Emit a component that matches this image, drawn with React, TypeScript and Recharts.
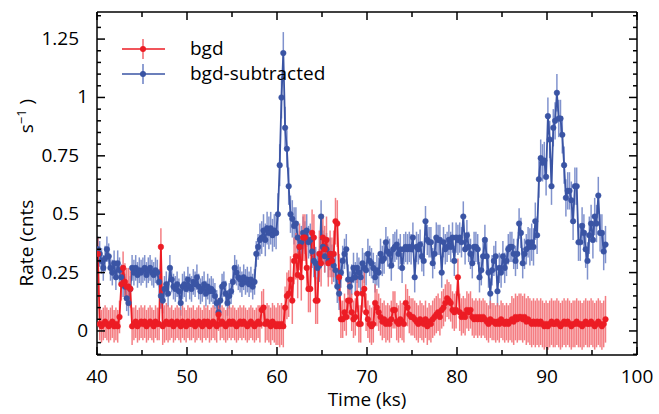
import { ComposedChart, Line, XAxis, YAxis, ErrorBar } from "recharts";

// light curve, 0.2 ks bins starting at 40.1 ks
const T0 = 40.1;
const BIN = 0.2;

// bgd-subtracted rate, 5 bins per ks
const bgdSub = [
  0.35, 0.33, 0.30, 0.27, 0.31, // 40
  0.35, 0.32, 0.27, 0.25, 0.29, // 41
  0.23, 0.29, 0.26, 0.23, 0.20, // 42
  0.19, 0.14, 0.12, 0.18, 0.27, // 43
  0.25, 0.27, 0.24, 0.26, 0.25, // 44
  0.26, 0.27, 0.24, 0.26, 0.27, // 45
  0.25, 0.24, 0.26, 0.25, 0.21, // 46
  0.15, 0.13, 0.18, 0.20, 0.16, // 47
  0.27, 0.22, 0.19, 0.18, 0.20, // 48
  0.17, 0.12, 0.19, 0.20, 0.18, // 49
  0.22, 0.19, 0.18, 0.21, 0.20, // 50
  0.23, 0.19, 0.17, 0.18, 0.20, // 51
  0.16, 0.19, 0.17, 0.18, 0.17, // 52
  0.15, 0.12, 0.08, 0.13, 0.19, // 53
  0.20, 0.16, 0.12, 0.15, 0.17, // 54
  0.21, 0.27, 0.25, 0.23, 0.22, // 55
  0.20, 0.23, 0.21, 0.22, 0.20, // 56
  0.22, 0.19, 0.21, 0.33, 0.36, // 57
  0.39, 0.40, 0.43, 0.39, 0.44, // 58
  0.42, 0.44, 0.41, 0.43, 0.42, // 59
  0.50, 0.71, 1.00, 1.19, 0.87, // 60
  0.78, 0.62, 0.50, 0.48, 0.45, // 61
  0.46, 0.40, 0.36, 0.38, 0.42, // 62
  0.40, 0.43, 0.38, 0.39, 0.34, // 63
  0.30, 0.29, 0.27, 0.28, 0.49, // 64
  0.36, 0.32, 0.35, 0.30, 0.33, // 65
  0.30, 0.28, 0.26, 0.19, 0.16, // 66
  0.25, 0.30, 0.33, 0.35, 0.22, // 67
  0.19, 0.22, 0.27, 0.23, 0.27, // 68
  0.25, 0.23, 0.29, 0.27, 0.26, // 69
  0.33, 0.30, 0.29, 0.27, 0.23, // 70
  0.26, 0.25, 0.33, 0.30, 0.31, // 71
  0.38, 0.34, 0.33, 0.28, 0.35, // 72
  0.36, 0.37, 0.33, 0.35, 0.27, // 73
  0.35, 0.36, 0.35, 0.36, 0.35, // 74
  0.40, 0.23, 0.36, 0.35, 0.37, // 75
  0.32, 0.30, 0.47, 0.39, 0.38, // 76
  0.38, 0.29, 0.33, 0.40, 0.39, // 77
  0.39, 0.25, 0.38, 0.35, 0.36, // 78
  0.39, 0.36, 0.40, 0.30, 0.40, // 79
  0.39, 0.40, 0.38, 0.49, 0.35, // 80
  0.41, 0.36, 0.33, 0.29, 0.36, // 81
  0.36, 0.35, 0.23, 0.26, 0.32, // 82
  0.39, 0.32, 0.25, 0.16, 0.26, // 83
  0.30, 0.32, 0.17, 0.27, 0.25, // 84
  0.32, 0.27, 0.30, 0.35, 0.36, // 85
  0.36, 0.33, 0.30, 0.33, 0.46, // 86
  0.42, 0.29, 0.33, 0.35, 0.38, // 87
  0.36, 0.38, 0.36, 0.47, 0.41, // 88
  0.65, 0.74, 0.72, 0.73, 0.66, // 89
  0.92, 0.82, 0.62, 0.87, 0.90, // 90
  1.02, 0.91, 0.91, 0.84, 0.71, // 91
  0.57, 0.60, 0.60, 0.56, 0.47, // 92
  0.62, 0.62, 0.38, 0.38, 0.45, // 93
  0.42, 0.35, 0.30, 0.41, 0.46, // 94
  0.39, 0.49, 0.46, 0.58, 0.42, // 95
  0.42, 0.34, 0.37, // 96
];

// background rate
const bgd = [
  0.33, 0.03, 0.02, 0.03, 0.04, // 40
  0.03, 0.02, 0.03, 0.04, 0.02, // 41
  0.03, 0.02, 0.06, 0.20, 0.27, // 42
  0.21, 0.19, 0.19, 0.18, 0.02, // 43
  0.03, 0.04, 0.02, 0.03, 0.04, // 44
  0.03, 0.04, 0.02, 0.03, 0.04, // 45
  0.03, 0.02, 0.04, 0.03, 0.03, // 46
  0.36, 0.02, 0.03, 0.04, 0.03, // 47
  0.03, 0.04, 0.02, 0.03, 0.04, // 48
  0.03, 0.02, 0.04, 0.03, 0.02, // 49
  0.04, 0.03, 0.03, 0.04, 0.02, // 50
  0.03, 0.04, 0.03, 0.02, 0.04, // 51
  0.03, 0.04, 0.02, 0.03, 0.04, // 52
  0.03, 0.02, 0.07, 0.03, 0.04, // 53
  0.03, 0.02, 0.03, 0.04, 0.03, // 54
  0.04, 0.03, 0.02, 0.03, 0.04, // 55
  0.03, 0.04, 0.03, 0.02, 0.03, // 56
  0.04, 0.03, 0.02, 0.03, 0.04, // 57
  0.03, 0.09, 0.10, 0.03, 0.04, // 58
  0.03, 0.02, 0.04, 0.03, 0.02, // 59
  0.03, 0.02, 0.03, 0.02, 0.10, // 60
  0.15, 0.16, 0.22, 0.13, 0.30, // 61
  0.32, 0.24, 0.36, 0.23, 0.40, // 62
  0.40, 0.27, 0.18, 0.18, 0.42, // 63
  0.40, 0.13, 0.13, 0.33, 0.29, // 64
  0.40, 0.35, 0.39, 0.29, 0.33, // 65
  0.30, 0.33, 0.47, 0.46, 0.23, // 66
  0.05, 0.05, 0.08, 0.06, 0.13, // 67
  0.13, 0.08, 0.05, 0.06, 0.16, // 68
  0.03, 0.03, 0.16, 0.18, 0.08, // 69
  0.05, 0.03, 0.02, 0.03, 0.12, // 70
  0.10, 0.08, 0.06, 0.04, 0.05, // 71
  0.03, 0.04, 0.03, 0.05, 0.09, // 72
  0.09, 0.04, 0.03, 0.05, 0.04, // 73
  0.03, 0.12, 0.10, 0.07, 0.06, // 74
  0.06, 0.05, 0.04, 0.03, 0.05, // 75
  0.04, 0.03, 0.05, 0.02, 0.04, // 76
  0.03, 0.05, 0.06, 0.07, 0.08, // 77
  0.06, 0.09, 0.10, 0.12, 0.14, // 78
  0.13, 0.12, 0.09, 0.08, 0.09, // 79
  0.23, 0.08, 0.06, 0.07, 0.06, // 80
  0.09, 0.08, 0.09, 0.06, 0.05, // 81
  0.06, 0.05, 0.06, 0.05, 0.06, // 82
  0.05, 0.04, 0.03, 0.05, 0.04, // 83
  0.04, 0.03, 0.04, 0.03, 0.05, // 84
  0.04, 0.03, 0.04, 0.03, 0.04, // 85
  0.05, 0.04, 0.06, 0.05, 0.06, // 86
  0.06, 0.05, 0.06, 0.04, 0.05, // 87
  0.04, 0.03, 0.04, 0.03, 0.04, // 88
  0.03, 0.04, 0.03, 0.02, 0.03, // 89
  0.02, 0.03, 0.04, 0.03, 0.03, // 90
  0.04, 0.03, 0.02, 0.03, 0.04, // 91
  0.03, 0.04, 0.03, 0.02, 0.03, // 92
  0.03, 0.04, 0.03, 0.03, 0.02, // 93
  0.03, 0.04, 0.03, 0.03, 0.04, // 94
  0.03, 0.02, 0.03, 0.04, 0.03, // 95
  0.02, 0.03, 0.05, // 96
];

// 1-sigma errors, one value per ks (40..96)
const bgdSubErr = [
  0.055, 0.055, 0.055, 0.055, 0.055, 0.055, 0.055, 0.055, 0.055, 0.055,
  0.055, 0.055, 0.055, 0.055, 0.055, 0.055, 0.055, 0.055, 0.07, 0.07,
  0.09, 0.08, 0.07, 0.07, 0.07, 0.07, 0.07, 0.065, 0.065, 0.065,
  0.065, 0.065, 0.065, 0.065, 0.065, 0.065, 0.065, 0.065, 0.065, 0.065,
  0.065, 0.065, 0.065, 0.065, 0.065, 0.065, 0.065, 0.065, 0.08, 0.08,
  0.08, 0.08, 0.08, 0.08, 0.08, 0.08, 0.08,
];
const bgdErr = [
  0.07, 0.07, 0.07, 0.08, 0.07, 0.07, 0.07, 0.08, 0.07, 0.07,
  0.07, 0.07, 0.07, 0.07, 0.07, 0.07, 0.07, 0.07, 0.08, 0.08,
  0.09, 0.1, 0.1, 0.1, 0.1, 0.1, 0.1, 0.08, 0.08, 0.08,
  0.08, 0.08, 0.08, 0.08, 0.08, 0.08, 0.08, 0.08, 0.08, 0.08,
  0.08, 0.08, 0.08, 0.08, 0.08, 0.08, 0.1, 0.1, 0.1, 0.1,
  0.1, 0.1, 0.1, 0.1, 0.1, 0.1, 0.1,
];

const xTicks = [40, 45, 50, 55, 60, 65, 70, 75, 80, 85, 90, 95, 100];
const xMajor = [40, 50, 60, 70, 80, 90, 100];
const yTicks = Array.from({ length: 30 }, (_, i) => Math.round((-0.1 + i * 0.05) * 100) / 100);
const yMajor = [0, 0.25, 0.5, 0.75, 1, 1.25];
const yDomain = [-0.103, 1.366];

const data = bgdSub.map((v, i) => {
  const t = Math.round((T0 + i * BIN) * 100) / 100;
  const k = Math.floor(t - 40);
  return { t, sub: v, bgd: bgd[i], subErr: bgdSubErr[k], bgdErr: bgdErr[k] };
});

const FONT = "'Open Sans', sans-serif";
const FS = 19;
const RED = "#ec1c24";
const RED_LIGHT = "#f2666c";
const BLUE = "#3a54a4";
const BLUE_LIGHT = "#6a7fc4";
const AXIS = { stroke: "#000", strokeWidth: 1.5 };

const isMajor = (v: number, list: number[]) => list.some((m) => Math.abs(m - v) < 1e-6);

// ticks point into the plot; long on labelled values, short in between
function BottomTick(props: any) {
  const { x, y, payload } = props;
  const major = isMajor(payload.value, xMajor);
  return (
    <g>
      <path d={`M${x},${y}V${y - (major ? 8 : 5)}`} stroke="#000" strokeWidth={1.5} fill="none" />
      {major && (
        <text x={x} y={y + 28} textAnchor="middle" fontSize={FS} fontFamily={FONT} fill="#000">
          {payload.value}
        </text>
      )}
    </g>
  );
}

function TopTick(props: any) {
  const { x, y, payload } = props;
  const major = isMajor(payload.value, xMajor);
  return <path d={`M${x},${y}V${y + (major ? 8 : 5)}`} stroke="#000" strokeWidth={1.5} fill="none" />;
}

function LeftTick(props: any) {
  const { x, y, payload } = props;
  const v = payload.value;
  const major = isMajor(v, yMajor);
  const integer = Number.isInteger(v);
  return (
    <g>
      <path d={`M${x},${y}H${x + (major ? 8 : 4)}`} stroke="#000" strokeWidth={1.5} fill="none" />
      {major && (
        <text x={integer ? x - 9 : x - 18} y={y + 6} textAnchor="end" fontSize={FS} fontFamily={FONT} fill="#000">
          {String(v)}
        </text>
      )}
    </g>
  );
}

function RightTick(props: any) {
  const { x, y, payload } = props;
  const major = isMajor(payload.value, yMajor);
  return <path d={`M${x},${y}H${x - (major ? 8 : 4)}`} stroke="#000" strokeWidth={1.5} fill="none" />;
}

function LegendRow({ y, color, light, label }: { y: number; color: string; light: string; label: string }) {
  return (
    <g>
      <line x1={122} y1={y} x2={165} y2={y} stroke={color} strokeWidth={1.5} />
      <line x1={143} y1={y - 10} x2={143} y2={y + 10} stroke={light} strokeWidth={1.5} />
      <circle cx={143} cy={y} r={3} fill={color} />
      <text x={190} y={y + 6} fontSize={FS} fontFamily={FONT} fill="#000">
        {label}
      </text>
    </g>
  );
}

export default function App() {
  return (
    <div style={{ position: "absolute", left: 0, top: 0, width: 659, height: 414, background: "#fff" }}>
      <ComposedChart width={659} height={414} data={data} margin={{ top: 11, right: 21, bottom: 29, left: 0 }}>
        <XAxis
          xAxisId="bottom"
          dataKey="t"
          type="number"
          domain={[40, 100]}
          ticks={xTicks}
          interval={0}
          allowDataOverflow
          height={30}
          tickSize={0}
          tickMargin={0}
          tickLine={false}
          axisLine={AXIS}
          tick={<BottomTick />}
        />
        <XAxis
          xAxisId="top"
          orientation="top"
          dataKey="t"
          type="number"
          domain={[40, 100]}
          ticks={xTicks}
          interval={0}
          allowDataOverflow
          height={1}
          tickSize={0}
          tickMargin={0}
          tickLine={false}
          axisLine={AXIS}
          tick={<TopTick />}
        />
        <YAxis
          yAxisId="left"
          type="number"
          domain={yDomain}
          ticks={yTicks}
          interval={0}
          allowDataOverflow
          width={97}
          tickSize={0}
          tickMargin={0}
          tickLine={false}
          axisLine={AXIS}
          tick={<LeftTick />}
        />
        <YAxis
          yAxisId="right"
          orientation="right"
          type="number"
          domain={yDomain}
          ticks={yTicks}
          interval={0}
          allowDataOverflow
          width={1}
          tickSize={0}
          tickMargin={0}
          tickLine={false}
          axisLine={AXIS}
          tick={<RightTick />}
        />
        <Line
          xAxisId="bottom"
          yAxisId="left"
          dataKey="sub"
          type="linear"
          stroke={BLUE}
          strokeWidth={1.8}
          dot={{ r: 2.8, fill: BLUE, stroke: BLUE, strokeWidth: 0.5 }}
          isAnimationActive={false}
        >
          <ErrorBar dataKey="subErr" direction="y" width={0} stroke={BLUE_LIGHT} strokeWidth={1.5} strokeOpacity={0.85} />
        </Line>
        <Line
          xAxisId="bottom"
          yAxisId="left"
          dataKey="bgd"
          type="linear"
          stroke={RED}
          strokeWidth={1.8}
          dot={{ r: 2.8, fill: RED, stroke: RED, strokeWidth: 0.5 }}
          isAnimationActive={false}
        >
          <ErrorBar dataKey="bgdErr" direction="y" width={0} stroke={RED_LIGHT} strokeWidth={1.5} strokeOpacity={0.85} />
        </Line>
      </ComposedChart>
      <svg width={659} height={414} style={{ position: "absolute", left: 0, top: 0, pointerEvents: "none" }}>
        <LegendRow y={49} color={RED} light={RED_LIGHT} label="bgd" />
        <LegendRow y={74} color={BLUE} light={BLUE_LIGHT} label="bgd-subtracted" />
        <text x={367} y={406} textAnchor="middle" fontSize={FS} fontFamily={FONT} fill="#000">
          Time (ks)
        </text>
        <text transform="translate(33, 243) rotate(-90)" textAnchor="middle" fontSize={FS} fontFamily={FONT} fill="#000">
          Rate (cnts
        </text>
        <text transform="translate(33, 116) rotate(-90)" textAnchor="middle" fontSize={FS} fontFamily={FONT} fill="#000">
          s<tspan dy={-7} fontSize={13}>−1</tspan>
          <tspan dy={7}> )</tspan>
        </text>
      </svg>
    </div>
  );
}
